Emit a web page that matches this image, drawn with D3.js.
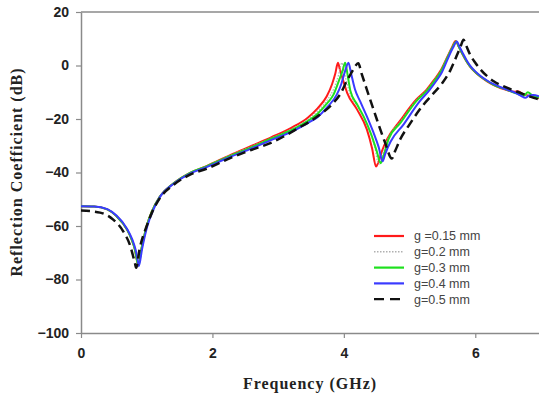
<!DOCTYPE html>
<html><head><meta charset="utf-8">
<script src="https://cdn.jsdelivr.net/npm/d3@7"></script>
<style>body{margin:0;background:#fff;}svg{display:block;}</style>
</head><body>
<svg id="chart" width="539" height="403"></svg>
<script>
// ---- data (frequency GHz, reflection coefficient dB) ----
const xTicks = [0, 2, 4, 6];
const yTicks = [20, 0, -20, -40, -60, -80, -100];
const seriesNames = ["g =0.15 mm", "g=0.2 mm", "g=0.3 mm", "g=0.4 mm", "g=0.5 mm"];

const g015 = [[0,-52.6],[0.2,-52.7],[0.4,-53.8],[0.54,-56.3],[0.7,-61.3],[0.77,-65],[0.82,-68.8],[0.86,-73.8],[0.87,-74.5],[0.92,-68.5],[1.0,-60],[1.08,-54.5],[1.2,-49],[1.41,-44],[1.66,-40.1],[1.91,-37.6],[2.27,-33.5],[2.6,-30],[2.9,-26.8],[3.2,-23.3],[3.45,-19.5],[3.6,-16],[3.74,-11.5],[3.82,-7],[3.87,-3],[3.91,1],[3.94,-1.5],[3.97,-4],[4.05,-10.2],[4.2,-16.4],[4.35,-23.9],[4.43,-31],[4.49,-37.8],[4.52,-36.5],[4.58,-32],[4.66,-27.5],[4.86,-20.5],[5.1,-12.8],[5.26,-9],[5.37,-5.5],[5.47,-2],[5.57,3],[5.65,7],[5.7,9.2],[5.75,7],[5.8,4.5],[5.86,1.8],[5.92,-0.4],[6.0,-2.5],[6.08,-4.2],[6.18,-5.9],[6.28,-7.3],[6.48,-9.2],[6.6,-9.8],[6.65,-9.6],[6.72,-10.6],[6.89,-11.7],[6.97,-12.3]];
const g02  = [[0,-52.6],[0.2,-52.7],[0.4,-53.8],[0.54,-56.3],[0.7,-61.3],[0.77,-65],[0.82,-68.8],[0.86,-73.8],[0.87,-74.6],[0.92,-68.5],[1.0,-60],[1.08,-54.5],[1.2,-49],[1.41,-44],[1.66,-40.1],[1.91,-37.6],[2.27,-33.6],[2.6,-30.2],[2.9,-27.1],[3.2,-23.8],[3.45,-20.2],[3.6,-17],[3.75,-12.8],[3.85,-8.5],[3.92,-3.5],[3.97,1],[4.01,-3],[4.08,-9.5],[4.25,-16.8],[4.38,-23.5],[4.47,-30.5],[4.53,-37],[4.56,-35.5],[4.63,-30],[4.7,-26],[4.86,-21],[5.1,-13.1],[5.26,-9.3],[5.37,-5.8],[5.47,-2.3],[5.57,2.8],[5.65,6.8],[5.71,9.1],[5.75,7],[5.8,4.6],[5.86,1.9],[5.92,-0.3],[6.0,-2.4],[6.08,-4.1],[6.18,-5.8],[6.28,-7.2],[6.48,-9.1],[6.68,-10.8],[6.89,-11.5],[6.97,-12]];
const g03  = [[0,-52.6],[0.2,-52.7],[0.4,-53.8],[0.54,-56.3],[0.7,-61.3],[0.77,-65],[0.82,-68.8],[0.86,-73.8],[0.875,-74.8],[0.92,-68.5],[1.0,-60],[1.08,-54.5],[1.2,-49],[1.41,-44],[1.66,-40.1],[1.91,-37.7],[2.27,-33.8],[2.6,-30.5],[2.9,-27.3],[3.2,-24.2],[3.45,-20.8],[3.6,-18],[3.75,-14],[3.84,-11],[3.92,-6],[3.98,-2],[4.02,1],[4.06,-4],[4.1,-9.5],[4.2,-14.5],[4.3,-19],[4.42,-26],[4.5,-32],[4.56,-36.5],[4.6,-34],[4.68,-27.5],[4.86,-21.5],[5.1,-13.4],[5.26,-9.5],[5.37,-6],[5.47,-2.5],[5.57,2.6],[5.65,6.6],[5.71,9],[5.75,7],[5.8,4.6],[5.86,1.9],[5.92,-0.3],[6.0,-2.4],[6.08,-4.1],[6.18,-5.8],[6.28,-7.2],[6.48,-9.1],[6.68,-10.9],[6.74,-11.2],[6.8,-10],[6.86,-11],[6.97,-12]];
const g04  = [[0,-52.6],[0.2,-52.7],[0.4,-53.7],[0.54,-56.1],[0.7,-61],[0.78,-65],[0.83,-68.8],[0.87,-73.8],[0.88,-75],[0.93,-68.5],[1.01,-60],[1.09,-54.5],[1.2,-49.2],[1.41,-44.2],[1.66,-40.4],[1.91,-38],[2.27,-34.2],[2.6,-31],[2.9,-27.8],[3.2,-24.8],[3.45,-21.5],[3.6,-19.3],[3.75,-15.5],[3.89,-11],[3.96,-7],[4.02,-2],[4.07,1],[4.11,-3],[4.17,-9],[4.25,-13.5],[4.35,-19],[4.45,-25],[4.53,-30.5],[4.59,-35.8],[4.63,-33],[4.71,-28.5],[4.91,-22],[5.15,-13.5],[5.3,-9.3],[5.4,-6],[5.49,-2.6],[5.58,2.4],[5.66,6.6],[5.72,9],[5.76,7],[5.81,4.6],[5.87,1.9],[5.93,-0.3],[6.0,-2.2],[6.08,-3.9],[6.18,-5.6],[6.28,-7],[6.48,-9],[6.62,-10.3],[6.7,-11.4],[6.76,-12.1],[6.82,-11.2],[6.88,-11],[6.97,-11.5]];
const g05  = [[0,-54.2],[0.29,-55],[0.49,-57.6],[0.64,-61.9],[0.75,-67.5],[0.82,-73.8],[0.84,-75.6],[0.89,-68.8],[1.0,-60],[1.08,-55],[1.2,-49.6],[1.41,-44.6],[1.66,-40.8],[1.91,-38.6],[2.27,-34.6],[2.6,-31.5],[2.9,-28.8],[3.3,-23.5],[3.6,-19],[3.84,-14],[3.95,-10.5],[4.05,-5.5],[4.12,-2.5],[4.18,0],[4.22,0.8],[4.27,-3],[4.35,-9],[4.5,-20],[4.63,-29],[4.73,-34.8],[4.78,-32],[4.86,-27.5],[5.0,-22],[5.2,-15],[5.35,-10.8],[5.49,-6.8],[5.62,-1.8],[5.72,3.8],[5.78,7.3],[5.82,9.6],[5.86,7.5],[5.92,4.1],[6.0,1],[6.08,-1.5],[6.28,-5.9],[6.48,-8.3],[6.68,-10.2],[6.89,-12.1],[6.97,-12.7]];

const seriesData = [g015, g02, g03, g04, g05];
const seriesColors = ["#ff1a1a", "#b0b0b0", "#1ee01e", "#3a3aff", "#111111"];
const seriesDash = [null, "1.5,1.5", null, null, "9,5"];
const seriesWidth = [2, 1.2, 2, 2, 2.5];

// ---- layout ----
const svg = d3.select("#chart");
const M = {left: 81, top: 12, bottom: 333, right: 541};
const x = d3.scaleLinear().domain([0, 7]).range([M.left, M.right]);
const y = d3.scaleLinear().domain([-100, 20]).range([M.bottom, M.top]);
const axisColor = "#8a8a8a";

svg.append("clipPath").attr("id", "clip").append("rect")
  .attr("x", M.left).attr("y", M.top).attr("width", M.right - M.left).attr("height", M.bottom - M.top);

// frame (top)
svg.append("line").attr("x1", M.left).attr("x2", M.right).attr("y1", M.top).attr("y2", M.top)
  .attr("stroke", axisColor).attr("stroke-width", 1.5);

// axes
const gx = svg.append("g").attr("transform", `translate(0,${M.bottom})`)
  .call(d3.axisBottom(x).tickValues(xTicks).tickSize(5).tickSizeOuter(0).tickPadding(8).tickFormat(d3.format("d")));
const gy = svg.append("g").attr("transform", `translate(${M.left},0)`)
  .call(d3.axisLeft(y).tickValues(yTicks).tickSize(5).tickSizeOuter(0).tickPadding(7).tickFormat(d3.format("d")));
[gx, gy].forEach(g => {
  g.select(".domain").attr("stroke", axisColor).attr("stroke-width", 1.5);
  g.selectAll(".tick line").attr("stroke", axisColor).attr("stroke-width", 1.2);
  g.selectAll(".tick text").attr("fill", "#222").attr("font-family", "Liberation Sans, Arial, sans-serif")
    .attr("font-weight", "bold").attr("font-size", "14px");
});
gx.selectAll(".tick text").attr("dy", "0.85em");

// curves
const line = d3.line().x(d => x(d[0])).y(d => y(d[1])).curve(d3.curveMonotoneX);
const plot = svg.append("g").attr("clip-path", "url(#clip)");
seriesData.forEach((s, i) => {
  plot.append("path").datum(s).attr("d", line)
    .attr("fill", "none").attr("stroke", seriesColors[i]).attr("stroke-width", seriesWidth[i])
    .attr("stroke-dasharray", seriesDash[i]).attr("stroke-linejoin", "round");
});

// legend
const leg = svg.append("g").attr("transform", "translate(374,236)");
seriesNames.forEach((n, i) => {
  const row = leg.append("g").attr("transform", `translate(0,${i * 15.8})`);
  row.append("line").attr("x1", 0).attr("x2", 30).attr("y1", 0).attr("y2", 0)
    .attr("stroke", seriesColors[i]).attr("stroke-width", i === 1 ? 1.5 : 2.2)
    .attr("stroke-dasharray", i === 4 ? "10,6" : seriesDash[i]);
  row.append("text").attr("x", 40).attr("y", 0).attr("dy", "0.35em").text(n)
    .attr("font-family", "Liberation Sans, Arial, sans-serif").attr("font-size", "12.5px").attr("fill", "#444");
});

// axis titles
svg.append("text").attr("x", 310).attr("y", 389).attr("text-anchor", "middle")
  .attr("font-family", "Liberation Serif, Times New Roman, serif").attr("font-weight", "bold")
  .attr("font-size", "16px").attr("letter-spacing", "1px").attr("fill", "#222").text("Frequency (GHz)");
svg.append("text").attr("transform", "translate(22,172) rotate(-90)").attr("text-anchor", "middle")
  .attr("font-family", "Liberation Serif, Times New Roman, serif").attr("font-weight", "bold")
  .attr("font-size", "16px").attr("letter-spacing", "1px").attr("fill", "#222").text("Reflection Coefficient (dB)");
</script>
</body></html>
